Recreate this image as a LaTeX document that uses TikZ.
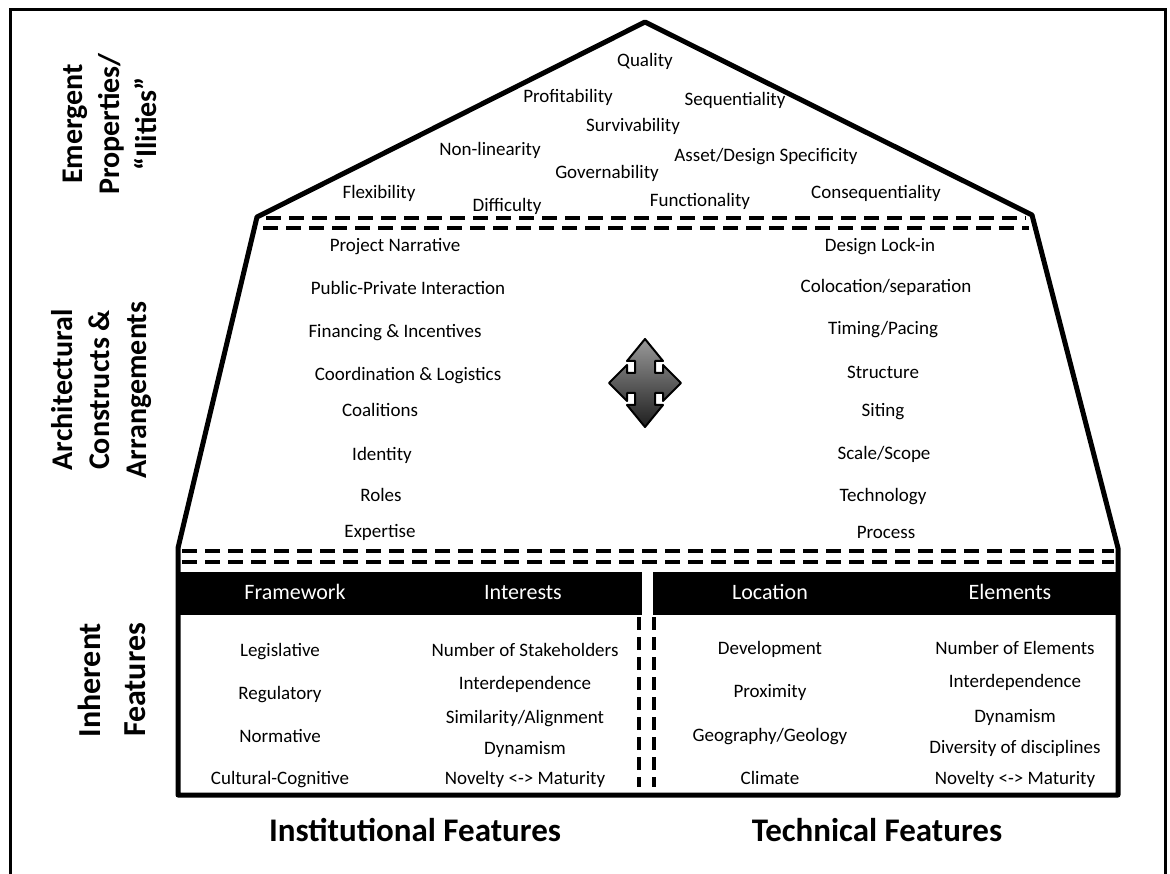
\documentclass[tikz,border=0pt]{standalone}
\usepackage{fontspec}
\setmainfont{Carlito}
\usetikzlibrary{positioning}

\tikzset{
  txt/.style={font=\fontsize{19}{22}\selectfont, inner sep=0pt, text height=13pt, text depth=4pt},
  hdr/.style={font=\fontsize{22}{26}\selectfont, text=white, inner sep=0pt, text height=15pt, text depth=4pt},
  side/.style={font=\bfseries\fontsize{30}{37}\selectfont, rotate=90, align=center, inner sep=0pt},
  foot/.style={font=\bfseries\fontsize{33}{38}\selectfont, inner sep=0pt},
  dline/.style={line width=4pt, dash pattern=on 15pt off 8pt},
  vline/.style={line width=3.5pt, dash pattern=on 13pt off 7pt},
  wall/.style={line width=5pt, line join=round},
  bar/.style={fill=black, draw=none},
}

\begin{document}
\begin{tikzpicture}[x=1pt, y=-1pt]
        \useasboundingbox (0,0) rectangle (1170,874);
        \draw [line width=3pt] (10,874) -- (10,10) -- (1165,10) -- (1165,874);
        % house outline
        \coordinate (roofL) at (257,217);
        \coordinate (apex) at (645,22);
        \coordinate (roofR) at (1032,215);
        \coordinate (baseR) at (1118,548);
        \coordinate (footR) at (1118,795);
        \coordinate (footL) at (178,795);
        \coordinate (baseL) at (178,548);
        \draw [wall] (baseL) -- (roofL) -- (apex) -- (roofR) -- (baseR) -- (footR) -- (footL) -- cycle;
        % level separators
        \draw [dline] (266,218) -- (1026,218);
        \draw [dline] (263,228) -- (1029,228);
        \draw [dline] (182,551) -- (1114,551);
        \draw [dline] (182,562) -- (1114,562);
        % header bars
        \fill [bar] (178,572) rectangle (642,615);
        \fill [bar] (653,572) rectangle (1118,615);
        \draw [vline] (639,617) -- (639,787);
        \draw [vline] (654,617) -- (654,787);
        % move arrow
        \begin{scope}[shift={(645,383)}]
          \draw [line width=2pt, line join=round, top color=black!40, bottom color=black!88]
            (0,-44) -- (18,-22) -- (10,-22) -- (10,-10) -- (18,-10) -- (18,-18) -- (36,0)
            -- (18,18) -- (18,10) -- (10,10) -- (10,22) -- (18,22) -- (0,44) -- (-18,22)
            -- (-10,22) -- (-10,10) -- (-18,10) -- (-18,18) -- (-36,0) -- (-18,-18)
            -- (-18,-10) -- (-10,-10) -- (-10,-22) -- (-18,-22) -- cycle;
        \end{scope}
        % side labels
        \node [side] (emerg) at (110,124) {Emergent\\Properties/\\“Ilities”};
        \node [side] (arch) at (102,390) {Architectural\\Constructs \&\\Arrangements};
        \node [side, font=\bfseries\fontsize{32}{45}\selectfont] (inher) at (112,680) {Inherent\\Features};
        \node [foot] (inst) at (415,830) {Institutional Features};
        \node [foot] (tech) at (877,830) {Technical Features};
        % ilities
        \node [txt] (quality) at (645,62) {Quality};
        \node [txt] (profit) at (568,98) {Profitability};
        \node [txt] (sequen) at (735,101) {Sequentiality};
        \node [txt] (surviv) at (633,127) {Survivability};
        \node [txt] (nonlin) at (490,151) {Non-linearity};
        \node [txt] (asset) at (766,157) {Asset/Design Specificity};
        \node [txt] (govern) at (607,174) {Governability};
        \node [txt] (flexi) at (379,194) {Flexibility};
        \node [txt] (diffic) at (507,207) {Difficulty};
        \node [txt] (functi) at (700,202) {Functionality};
        \node [txt] (conseq) at (876,194) {Consequentiality};
        % institutional constructs
        \node [txt] (narr) at (395,247) {Project Narrative};
        \node [txt] (ppi) at (408,290) {Public-Private Interaction};
        \node [txt] (financ) at (395,333) {Financing \& Incentives};
        \node [txt] (coord) at (408,376) {Coordination \& Logistics};
        \node [txt] (coal) at (380,412) {Coalitions};
        \node [txt] (ident) at (382,456) {Identity};
        \node [txt] (roles) at (381,497) {Roles};
        \node [txt] (expert) at (380,533) {Expertise};
        % technical constructs
        \node [txt] (lockin) at (880,247) {Design Lock-in};
        \node [txt] (coloc) at (886,288) {Colocation/separation};
        \node [txt] (timing) at (883,330) {Timing/Pacing};
        \node [txt] (struct) at (883,374) {Structure};
        \node [txt] (siting) at (883,412) {Siting};
        \node [txt] (scale) at (884,455) {Scale/Scope};
        \node [txt] (techno) at (883,497) {Technology};
        \node [txt] (process) at (886,534) {Process};
        % headers
        \node [hdr] (frame) at (295,594) {Framework};
        \node [hdr] (inter) at (523,594) {Interests};
        \node [hdr] (locat) at (770,594) {Location};
        \node [hdr] (elem) at (1010,594) {Elements};
        % inherent features
        \node [txt] (legis) at (280,652) {Legislative};
        \node [txt] (regul) at (280,695) {Regulatory};
        \node [txt] (norma) at (280,738) {Normative};
        \node [txt] (cultu) at (280,780) {Cultural-Cognitive};
        \node [txt] (stake) at (525,652) {Number of Stakeholders};
        \node [txt] (idepA) at (525,685) {Interdependence};
        \node [txt] (simil) at (525,719) {Similarity/Alignment};
        \node [txt] (dynaA) at (525,750) {Dynamism};
        \node [txt] (noveA) at (525,780) {Novelty <-> Maturity};
        \node [txt] (devel) at (770,650) {Development};
        \node [txt] (proxi) at (770,693) {Proximity};
        \node [txt] (geogr) at (770,737) {Geography/Geology};
        \node [txt] (clima) at (770,780) {Climate};
        \node [txt] (nelem) at (1015,650) {Number of Elements};
        \node [txt] (idepB) at (1015,683) {Interdependence};
        \node [txt] (dynaB) at (1015,718) {Dynamism};
        \node [txt] (diver) at (1015,749) {Diversity of disciplines};
        \node [txt] (noveB) at (1015,780) {Novelty <-> Maturity};
\end{tikzpicture}
\end{document}
